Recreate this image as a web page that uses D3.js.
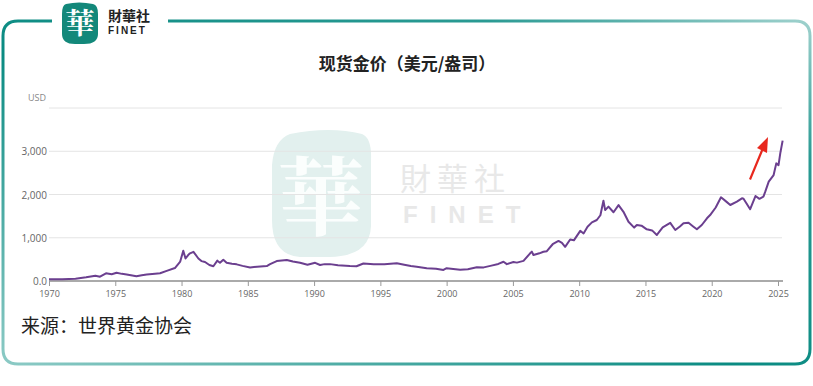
<!DOCTYPE html>
<html>
<head>
<meta charset="utf-8">
<script src="https://cdn.jsdelivr.net/npm/d3@7"></script>
<style>
  body { margin: 0; background: #fff; }
  svg { display: block; }
</style>
</head>
<body>
<svg id="chart" width="813" height="386"></svg>
<script>
// gold spot price, USD/oz
var years = [1970, 1971, 1972, 1972.8, 1973.5, 1973.85, 1974.3, 1974.73, 1975.1, 1975.5, 1975.86, 1976.6, 1977, 1977.37,
  1978, 1978.38, 1978.88, 1979.5, 1979.9, 1980.13, 1980.3, 1980.5, 1980.64, 1980.9, 1981.27, 1981.5, 1981.77, 1982.1,
  1982.4, 1982.7, 1982.9, 1983.15, 1983.4, 1983.8, 1984.16, 1984.6, 1985.17, 1985.7, 1986.43, 1986.68, 1987.18,
  1987.94, 1988.4, 1988.94, 1989.5, 1990.08, 1990.45, 1990.8, 1991.2, 1991.8, 1992.7, 1993.2, 1993.72, 1994.5,
  1995.3, 1996.24, 1996.8, 1997.3, 1997.74, 1998.5, 1999.2, 1999.76, 2000, 2000.5, 2001.02, 2001.6, 2002.28, 2002.8,
  2003.3, 2003.9, 2004.29, 2004.54, 2005.04, 2005.3, 2005.8, 2006.3, 2006.43, 2006.55, 2007, 2007.3, 2007.56, 2008,
  2008.44, 2008.7, 2008.94, 2009.32, 2009.6, 2010.08, 2010.33, 2010.63, 2010.96, 2011.33, 2011.6, 2011.83, 2011.96,
  2012.21, 2012.59, 2012.97, 2013.34, 2013.72, 2014.15, 2014.35, 2014.7, 2015.1, 2015.5, 2015.86, 2016.3, 2016.87,
  2017.25, 2017.6, 2017.87, 2018.25, 2018.6, 2018.88, 2019.25, 2019.64, 2019.88, 2020.3, 2020.7, 2021.1, 2021.4,
  2021.9, 2022.28, 2022.4, 2022.9, 2023.3, 2023.6, 2023.9, 2024.04, 2024.3, 2024.67, 2024.87, 2025.04, 2025.17, 2025.35]
var prices = [38, 40, 50, 85, 123, 100, 177, 155, 190, 165, 150, 110, 135, 150,
  170, 178, 235, 300, 450, 700, 520, 600, 640, 675, 520, 460, 440, 370,
  340, 470, 420, 490, 420, 400, 385, 350, 310, 330, 345, 390, 460,
  485, 450, 420, 375, 420, 370, 390, 390, 365, 345, 340, 405, 385,
  390, 410, 375, 345, 330, 295, 285, 255, 295, 280, 260, 270, 320, 315,
  350, 395, 445, 390, 440, 425, 465, 640, 680, 600, 640, 675, 690, 850,
  925, 880, 790, 960, 940, 1160, 1100, 1255, 1355, 1410, 1520, 1855, 1640,
  1720, 1590, 1755, 1600, 1370, 1235, 1295, 1280, 1195, 1170, 1065, 1240, 1345,
  1180, 1260, 1335, 1345, 1260, 1195, 1295, 1450, 1525, 1700, 1935, 1835, 1757,
  1835, 1912, 1900, 1660, 1965, 1900, 1950, 2065, 2296, 2450, 2720, 2680, 2950, 3245]

var xTicks = [1970, 1975, 1980, 1985, 1990, 1995, 2000, 2005, 2010, 2015, 2020, 2025]
var yTicks = [0, 1000, 2000, 3000, 4000]

var svg = d3.select('#chart')
var defs = svg.append('defs')
var grad = defs.append('linearGradient').attr('id', 'frameGrad')
  .attr('x1', '0%').attr('y1', '100%').attr('x2', '100%').attr('y2', '0%')
grad.append('stop').attr('offset', '0%').attr('stop-color', '#8ccac5')
grad.append('stop').attr('offset', '45%').attr('stop-color', '#0a8b82')
grad.append('stop').attr('offset', '80%').attr('stop-color', '#2a9a93')
grad.append('stop').attr('offset', '100%').attr('stop-color', '#9fd1cd')

// frame with gap for the logo
svg.append('path')
  .attr('d', 'M52,21 L18,21 Q3,21 3,36 L3,349 Q3,364 18,364 L795,364 Q810,364 810,349 L810,36 Q810,21 795,21 L168,21')
  .attr('fill', 'none').attr('stroke', 'url(#frameGrad)').attr('stroke-width', 3)

// top logo
svg.append('path').attr('d', 'M66,4 Q79,1 93,4 Q98,5 98,14 L98,34 Q98,44 84,44 L75,44 Q62,44 62,34 L62,14 Q62,5 66,4 Z')
  .attr('fill', '#13887a')
svg.append('text').attr('x', 80).attr('y', 34).attr('text-anchor', 'middle')
  .style('font-family', 'Noto Serif CJK TC, Noto Sans CJK TC').style('font-size', '29px').style('font-weight', 'bold')
  .attr('fill', '#fff').text('華')
svg.append('text').attr('x', 108).attr('y', 21)
  .style('font-family', 'Noto Sans CJK TC').style('font-size', '14px').style('font-weight', 'bold')
  .attr('fill', '#222').text('財華社')
svg.append('text').attr('x', 108).attr('y', 34)
  .style('font-family', 'Liberation Sans, Arial').style('font-size', '10px').style('font-weight', 'bold')
  .style('letter-spacing', '2px').attr('fill', '#222').text('FINET')

// watermark
var wm = svg.append('g')
wm.append('path').attr('d', 'M290,134 Q330,126 362,134 Q372,138 371,160 L371,226 Q370,256 330,257 L300,257 Q272,255 272,220 L272,165 Q274,140 290,134 Z')
  .attr('fill', '#e2f0ee')
wm.append('text').attr('x', 321).attr('y', 229).attr('text-anchor', 'middle')
  .style('font-family', 'Noto Serif CJK TC, Noto Sans CJK TC').style('font-size', '86px').style('font-weight', 'bold')
  .attr('fill', '#fbfefd').text('華')
wm.append('text').attr('x', 400).attr('y', 190)
  .style('font-family', 'Noto Sans CJK TC').style('font-size', '31px')
  .style('letter-spacing', '6px').attr('fill', '#e8e8e8').text('財華社')
wm.append('text').attr('x', 403).attr('y', 223)
  .style('font-family', 'Liberation Sans, Arial').style('font-size', '24px').style('font-weight', 'bold')
  .style('letter-spacing', '12px').attr('fill', '#e8e8e8').text('FINET')

// title
svg.append('text').attr('x', 407).attr('y', 70).attr('text-anchor', 'middle')
  .style('font-family', 'Noto Sans CJK SC').style('font-size', '17px').style('font-weight', 'bold')
  .attr('fill', '#222').text('现货金价（美元/盎司）')

var x = d3.scaleLinear().domain([1970, 2025]).range([49, 778])
var y = d3.scaleLinear().domain([0, 4000]).range([281, 108])

// grid
svg.append('g').selectAll('line').data(yTicks.slice(1)).enter().append('line')
  .attr('x1', 49).attr('x2', 782).attr('y1', d => y(d)).attr('y2', d => y(d))
  .attr('stroke', '#e4e4e4').attr('stroke-width', 1)

svg.append('g').selectAll('text').data(yTicks.slice(0, 4)).enter().append('text')
  .attr('x', 47).attr('y', d => y(d) + 4).attr('text-anchor', 'end')
  .style('font-family', 'Open Sans').style('font-size', '10px').attr('fill', '#666')
  .text(d => d === 0 ? '0.0' : d3.format(',')(d))
svg.append('text').attr('x', 46).attr('y', 101).attr('text-anchor', 'end')
  .style('font-family', 'Open Sans').style('font-size', '9px').attr('fill', '#888').text('USD')

var xAxis = d3.axisBottom(x).tickValues(xTicks).tickFormat(d3.format('d')).tickSize(5).tickSizeOuter(0)
var gx = svg.append('g').attr('transform', 'translate(0,281)').call(xAxis)
gx.select('.domain').attr('d', 'M49,0H783').attr('stroke', '#aaa').attr('stroke-width', 2)
gx.selectAll('.tick line').attr('stroke', '#999')
gx.selectAll('.tick text').attr('dy', '1em').attr('y', 7)
  .style('font-family', 'Open Sans').style('font-size', '9px').attr('fill', '#666')

var line = d3.line().x((d, i) => x(years[i])).y(d => y(d))
svg.append('path').datum(prices).attr('d', line)
  .attr('fill', 'none').attr('stroke', '#6b3f8f').attr('stroke-width', 2).attr('stroke-linejoin', 'round')

// red arrow
svg.append('path').attr('d', 'M749,179 L761,150 L757,148 L768,137 L767,153 L763,151 L751,180 Z')
  .attr('fill', '#e8281e')

svg.append('text').attr('x', 21).attr('y', 333)
  .style('font-family', 'Noto Sans CJK SC').style('font-size', '19px')
  .attr('fill', '#222').text('来源：世界黄金协会')
</script>
</body>
</html>
